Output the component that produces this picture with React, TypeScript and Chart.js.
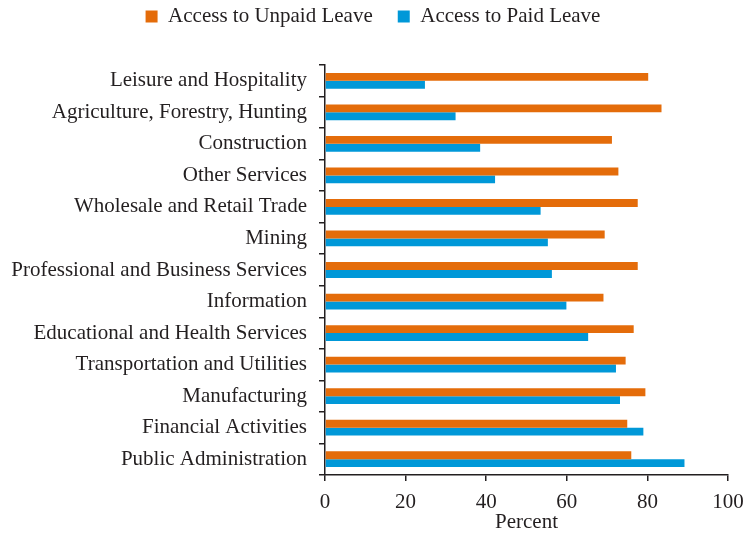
import React, { useEffect, useRef } from "react";
import { Chart, registerables } from "chart.js";

Chart.register(...registerables);

const categories = [
  "Leisure and Hospitality",
  "Agriculture, Forestry, Hunting",
  "Construction",
  "Other Services",
  "Wholesale and Retail Trade",
  "Mining",
  "Professional and Business Services",
  "Information",
  "Educational and Health Services",
  "Transportation and Utilities",
  "Manufacturing",
  "Financial Activities",
  "Public Administration",
];

const unpaidLeave = [80.2, 83.5, 71.2, 72.8, 77.6, 69.4, 77.6, 69.1, 76.6, 74.6, 79.5, 75.0, 76.0];
const paidLeave = [24.8, 32.4, 38.5, 42.2, 53.5, 55.3, 56.3, 59.9, 65.3, 72.2, 73.2, 79.0, 89.2];

const xTicks = [0, 20, 40, 60, 80, 100];

const FONT = "'Liberation Serif', 'Times New Roman', serif";
const TEXT = "#231f20";
const FS = 21;

const legendGap = {
  id: "legendGap",
  afterInit(chart: any) {
    const lg = chart.legend;
    if (!lg) return;
    const orig = lg.fit;
    lg.fit = function () {
      orig.call(this);
      this.height += 28;
    };
  },
};

export default function App() {
  const ref = useRef<HTMLCanvasElement | null>(null);

  useEffect(() => {
    if (!ref.current) return;
    const chart = new Chart(ref.current, {
      type: "bar",
      plugins: [legendGap],
      data: {
        labels: categories,
        datasets: [
          {
            label: "Access to Unpaid Leave",
            data: unpaidLeave,
            backgroundColor: "#E46C0A",
            borderWidth: 0,
            categoryPercentage: 0.5,
            barPercentage: 1,
          },
          {
            label: "Access to Paid Leave",
            data: paidLeave,
            backgroundColor: "#0098D8",
            borderWidth: 0,
            categoryPercentage: 0.5,
            barPercentage: 1,
          },
        ],
      },
      options: {
        indexAxis: "y",
        animation: false,
        responsive: false,
        maintainAspectRatio: false,
        layout: { padding: { top: -19, right: 0, bottom: 0, left: 0 } },
        plugins: {
          legend: {
            position: "top",
            align: "center",
            labels: {
              boxWidth: 12,
              boxHeight: 12,
              padding: 25,
              color: TEXT,
              font: { family: FONT, size: FS },
            },
          },
          tooltip: { enabled: false },
        },
        scales: {
          x: {
            min: 0,
            max: 100,
            afterBuildTicks: (s: any) => {
              s.ticks = xTicks.map((v) => ({ value: v }));
            },
            afterFit: (s: any) => {
              s.height = 60;
              s.paddingRight = 18;
            },
            border: { display: true, color: "#231f20", width: 1.5 },
            grid: {
              display: true,
              drawOnChartArea: false,
              drawTicks: true,
              tickLength: 6,
              color: "#231f20",
              lineWidth: 1.5,
            },
            ticks: {
              color: TEXT,
              font: { family: FONT, size: FS },
              padding: 9,
              maxRotation: 0,
            },
            title: {
              display: true,
              text: "Percent",
              color: TEXT,
              font: { family: FONT, size: FS },
              padding: { top: 0, bottom: 0 },
            },
          },
          y: {
            afterFit: (s: any) => {
              s.width = 325;
            },
            border: { display: true, color: "#231f20", width: 1.5 },
            grid: {
              display: true,
              offset: true,
              drawOnChartArea: false,
              drawTicks: true,
              tickLength: 6,
              color: "#231f20",
              lineWidth: 1.5,
            },
            ticks: {
              color: TEXT,
              font: { family: FONT, size: FS },
              padding: 12,
              autoSkip: false,
            },
          },
        },
      },
    });
    return () => chart.destroy();
  }, []);

  return (
    <div style={{ position: "fixed", left: 0, top: 0, width: 746, height: 535, background: "#fff" }}>
      <canvas ref={ref} width={746} height={535} style={{ width: 746, height: 535 }} />
    </div>
  );
}
